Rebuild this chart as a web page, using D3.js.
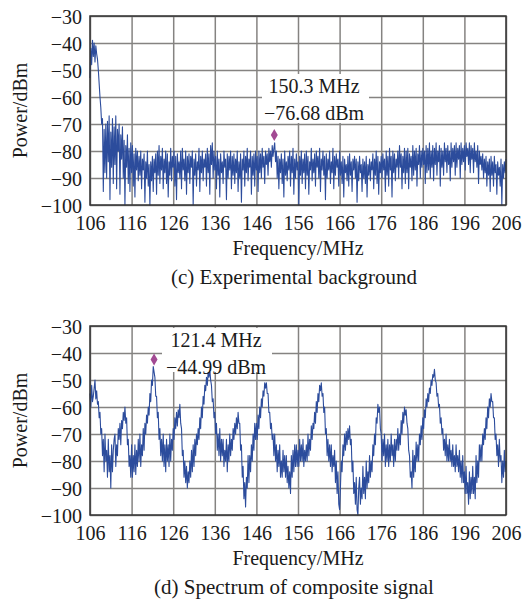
<!DOCTYPE html>
<html lang="en">
	<head>
		<meta charset="utf-8">
		<title>Spectrum panels</title>
		<script type="text/javascript" src="https://cdn.jsdelivr.net/npm/d3@7/dist/d3.min.js"></script>
		<style type="text/css">
			body { margin: 0; background: #fff; }
			text { font-family: "Liberation Serif", "Times New Roman", serif; fill: #1a1a1a; }
		</style>
	</head>
	<body>
        <svg width="523" height="607"></svg>
		<script type="text/javascript">

            // frequency sampling of both traces (MHz)
            const freqStart = 106;
            const freqStep = 0.2;

            const xTicks = [106, 116, 126, 136, 146, 156, 166, 176, 186, 196, 206];
            const yTicks = [-30, -40, -50, -60, -70, -80, -90, -100];

            // (c) experimental background, dBm (one row = 2 MHz)
            const backgroundPower = [
                -53,-42,-48,-39,-45,-40,-47,-41,-44,-46,
                -50,-55,-60,-64,-70,-68,-95,-72,-88,-70,
                -90,-69,-84,-67,-98,-73,-86,-68,-92,-71,
                -85,-67,-94,-72,-80,-70,-96,-74,-83,-71,
                -90,-76,-100,-78,-86,-74,-92,-79,-95,-77,
                -88,-78,-93,-81,-97,-79,-87,-80,-91,-82,
                -89,-80,-94,-83,-87,-81,-99,-84,-90,-80,
                -93,-85,-100,-84,-91,-82,-95,-83,-88,-81,
                -96,-80,-89,-78,-92,-82,-87,-79,-94,-83,
                -88,-80,-92,-81,-97,-84,-89,-79,-91,-82,
                -86,-80,-93,-82,-98,-81,-88,-84,-90,-80,
                -94,-79,-87,-83,-91,-80,-96,-82,-88,-81,
                -92,-82,-86,-80,-100,-83,-89,-81,-93,-84,
                -87,-79,-95,-82,-88,-80,-91,-83,-86,-81,
                -93,-79,-88,-81,-96,-78,-85,-77,-90,-80,
                -87,-82,-94,-80,-89,-83,-97,-81,-88,-84,
                -92,-80,-86,-83,-98,-81,-90,-82,-87,-80,
                -94,-82,-89,-81,-92,-83,-88,-80,-95,-84,
                -90,-81,-99,-83,-87,-80,-93,-82,-88,-79,
                -91,-83,-86,-80,-96,-82,-89,-81,-93,-80,
                -87,-82,-95,-80,-88,-81,-90,-79,-86,-82,
                -92,-80,-85,-81,-89,-79,-84,-80,-86,-78,
                -82,-79,-77,-84,-80,-90,-82,-94,-83,-88,
                -81,-92,-83,-97,-80,-89,-84,-91,-82,-87,
                -80,-93,-82,-88,-79,-96,-83,-90,-81,-87,
                -84,-100,-82,-89,-80,-92,-83,-88,-81,-94,
                -80,-89,-82,-96,-84,-87,-79,-91,-83,-88,
                -81,-93,-80,-86,-82,-90,-79,-95,-83,-87,
                -80,-89,-82,-98,-81,-90,-83,-87,-80,-92,
                -84,-88,-79,-94,-82,-89,-81,-86,-83,-93,
                -80,-89,-84,-92,-82,-97,-83,-88,-85,-91,
                -82,-93,-81,-89,-84,-95,-83,-87,-82,-90,
                -83,-99,-84,-91,-82,-88,-85,-95,-83,-90,
                -84,-92,-82,-97,-85,-89,-83,-91,-84,-87,
                -81,-94,-83,-89,-80,-92,-82,-96,-84,-88,
                -82,-90,-81,-87,-83,-95,-80,-89,-82,-93,
                -79,-87,-82,-97,-80,-88,-81,-91,-83,-86,
                -80,-90,-78,-86,-81,-94,-82,-88,-79,-92,
                -80,-88,-79,-94,-81,-86,-82,-91,-78,-89,
                -80,-87,-79,-93,-81,-85,-78,-90,-80,-86,
                -79,-85,-80,-92,-78,-88,-79,-87,-77,-90,
                -80,-86,-78,-91,-79,-85,-77,-89,-80,-84,
                -78,-93,-79,-86,-80,-89,-77,-84,-79,-88,
                -78,-85,-80,-91,-77,-86,-79,-84,-78,-89,
                -77,-86,-79,-83,-78,-90,-77,-85,-79,-84,
                -78,-87,-77,-82,-79,-85,-77,-88,-78,-83,
                -79,-88,-77,-84,-80,-86,-78,-92,-80,-85,
                -82,-87,-81,-90,-83,-88,-82,-93,-84,-89,
                -83,-95,-82,-89,-84,-93,-82,-88,-85,-96,
                -84,-89,-86,-93,-83,-100,-85,-90,-84,-88,
                -83
            ];

            // (d) composite signal, dBm (one row = 2 MHz)
            const compositePower = [
                -55,-60,-52,-58,-56,-53,-50,-57,-54,-59,
                -58,-64,-62,-70,-68,-78,-72,-84,-70,-80,
                -76,-86,-72,-84,-78,-90,-74,-84,-76,-72,
                -70,-82,-74,-78,-68,-72,-66,-74,-65,-68,
                -62,-65,-60,-66,-64,-74,-72,-82,-78,-86,
                -74,-86,-78,-84,-74,-85,-76,-82,-72,-80,
                -70,-82,-74,-78,-68,-76,-66,-70,-63,-66,
                -60,-63,-55,-58,-50,-52,-45,-47,-49,-56,
                -56,-64,-62,-72,-68,-78,-72,-80,-70,-82,
                -74,-84,-72,-80,-74,-82,-70,-80,-72,-76,
                -68,-72,-64,-68,-62,-67,-61,-64,-59,-66,
                -68,-78,-76,-86,-80,-88,-82,-90,-84,-88,
                -80,-86,-76,-84,-74,-82,-72,-78,-70,-74,
                -68,-72,-64,-68,-60,-64,-56,-59,-52,-54,
                -49,-52,-47,-49,-46,-50,-52,-58,-57,-64,
                -62,-70,-66,-76,-70,-78,-68,-80,-72,-78,
                -72,-82,-76,-80,-72,-84,-74,-80,-70,-78,
                -72,-76,-68,-72,-66,-70,-64,-68,-62,-66,
                -66,-76,-74,-86,-82,-94,-88,-97,-86,-90,
                -78,-88,-78,-84,-74,-80,-70,-76,-66,-72,
                -66,-72,-63,-68,-60,-64,-57,-60,-54,-56,
                -51,-53,-51,-55,-55,-62,-62,-68,-66,-72,
                -70,-78,-70,-80,-74,-84,-76,-82,-74,-86,
                -80,-86,-76,-84,-78,-86,-78,-88,-82,-90,
                -84,-92,-78,-86,-76,-84,-74,-82,-74,-82,
                -76,-82,-72,-80,-74,-80,-72,-82,-76,-80,
                -74,-80,-70,-78,-72,-76,-67,-72,-66,-68,
                -62,-66,-58,-62,-55,-58,-52,-54,-51,-56,
                -55,-62,-60,-70,-68,-78,-72,-80,-74,-82,
                -74,-84,-78,-82,-76,-88,-80,-92,-84,-96,
                -98,-90,-80,-84,-74,-78,-70,-76,-69,-74,
                -68,-72,-67,-74,-72,-84,-80,-92,-88,-96,
                -86,-98,-100,-90,-86,-96,-90,-94,-82,-92,
                -86,-94,-80,-90,-84,-88,-78,-86,-80,-84,
                -74,-78,-70,-74,-64,-66,-59,-62,-60,-68,
                -70,-80,-72,-78,-70,-82,-74,-80,-72,-82,
                -74,-80,-70,-78,-74,-82,-72,-80,-72,-76,
                -68,-76,-70,-74,-65,-70,-62,-66,-60,-63,
                -61,-66,-68,-76,-78,-86,-84,-90,-76,-86,
                -78,-84,-73,-80,-74,-80,-70,-74,-67,-72,
                -64,-68,-61,-64,-57,-60,-55,-58,-53,-55,
                -50,-52,-48,-49,-46,-50,-51,-56,-55,-60,
                -59,-66,-64,-70,-68,-76,-72,-78,-70,-80,
                -74,-80,-72,-80,-76,-82,-74,-82,-78,-84,
                -74,-82,-78,-84,-76,-86,-80,-88,-78,-88,
                -84,-92,-82,-92,-88,-96,-84,-94,-86,-92,
                -82,-92,-86,-94,-78,-88,-80,-86,-74,-80,
                -74,-80,-70,-74,-68,-72,-64,-68,-60,-64,
                -57,-60,-55,-58,-58,-64,-64,-72,-70,-78,
                -74,-82,-72,-80,-78,-88,-80,-86,-76,-84,
                -80
            ];

            const panels = [
                { power: backgroundPower, top: 16, markF: 150.3, markP: -76.68,
                  note: ['150.3 MHz', '\u221276.68 dBm'], noteX: 314, noteBox: [262, 74, 107, 49],
                  caption: '(c) Experimental background' },
                { power: compositePower, top: 326, markF: 121.4, markP: -44.99,
                  note: ['121.4 MHz', '\u221244.99 dBm'], noteX: 216, noteBox: [162, 328, 110, 44],
                  caption: '(d) Spectrum of composite signal' }
            ];

            const svg = d3.select('svg');
            const margin = { left: 90, right: 17 };
            const innerWidth = +svg.attr('width') - margin.left - margin.right;
            const innerHeight = 189;

            const xScale = d3.scaleLinear().domain([106, 206]).range([0, innerWidth]);
            const yScale = d3.scaleLinear().domain([-100, -30]).range([innerHeight, 0]);

            const line = d3.line()
                .x((d, i) => xScale(freqStart + i * freqStep))
                .y(d => yScale(d));

            panels.forEach(p => {
                const g = svg.append('g')
                    .attr('transform', `translate(${margin.left}, ${p.top})`);

                // grid lines
                g.append('g')
                    .call(d3.axisLeft(yScale).tickValues(yTicks).tickSize(-innerWidth).tickFormat(''))
                    .call(a => a.select('.domain').remove());
                g.append('g')
                    .attr('transform', `translate(0, ${innerHeight})`)
                    .call(d3.axisBottom(xScale).tickValues(xTicks).tickSize(-innerHeight).tickFormat(''))
                    .call(a => a.select('.domain').remove());
                g.selectAll('.tick line').attr('stroke', '#858381').attr('stroke-width', 1.5);

                // tick labels
                const yLab = g.append('g')
                    .call(d3.axisLeft(yScale).tickValues(yTicks).tickSize(0).tickPadding(8));
                yLab.selectAll('text').attr('dy', 7).attr('text-anchor', 'end');
                const xLab = g.append('g')
                    .attr('transform', `translate(0, ${innerHeight})`)
                    .call(d3.axisBottom(xScale).tickValues(xTicks).tickSize(0));
                xLab.selectAll('text').attr('y', 25).attr('dy', null).attr('text-anchor', 'middle');

                [yLab, xLab].forEach(a => {
                    a.attr('font-size', 20).attr('fill', '#1a1a1a');
                    a.select('.domain').remove();
                    a.selectAll('line').remove();
                    a.selectAll('text')
                        .attr('font-size', 20)
                        .attr('font-family', '"Liberation Serif", "Times New Roman", serif')
                        .attr('fill', '#1a1a1a');
                });

                g.append('path')
                    .datum(p.power)
                    .attr('fill', 'none')
                    .attr('stroke', '#2c4c9c')
                    .attr('stroke-width', 1.1)
                    .attr('stroke-linejoin', 'round')
                    .attr('d', line);

                // frame
                g.append('rect')
                    .attr('width', innerWidth)
                    .attr('height', innerHeight)
                    .attr('fill', 'none')
                    .attr('stroke', '#333')
                    .attr('stroke-width', 1.5);

                // marker and note
                const mx = xScale(p.markF);
                const my = yScale(p.markP) - 7;
                g.append('path')
                    .attr('d', `M${mx},${my - 6}L${mx + 3.5},${my}L${mx},${my + 6}L${mx - 3.5},${my}Z`)
                    .attr('fill', '#a24a93');

                svg.append('rect')
                    .attr('x', p.noteBox[0]).attr('y', p.noteBox[1])
                    .attr('width', p.noteBox[2]).attr('height', p.noteBox[3])
                    .attr('fill', '#fff');
                svg.append('text')
                    .attr('x', p.noteX)
                    .attr('y', p.noteBox[1] + 19)
                    .attr('text-anchor', 'middle')
                    .attr('font-size', 20)
                    .selectAll('tspan').data(p.note)
                    .enter().append('tspan')
                    .attr('x', p.noteX)
                    .attr('dy', (d, i) => i ? 27 : 0)
                    .text(d => d);

                // labels
                g.append('text')
                    .attr('x', innerWidth / 2)
                    .attr('y', innerHeight + 50)
                    .attr('text-anchor', 'middle')
                    .attr('font-size', 20)
                    .text('Frequency/MHz');
                g.append('text')
                    .attr('transform', `translate(-63, ${innerHeight / 2}) rotate(-90)`)
                    .attr('text-anchor', 'middle')
                    .attr('font-size', 20)
                    .text('Power/dBm');
                g.append('text')
                    .attr('x', innerWidth / 2 - 4)
                    .attr('y', innerHeight + 79)
                    .attr('text-anchor', 'middle')
                    .attr('font-size', 21)
                    .text(p.caption);
            });

		</script>
	</body>
</html>
